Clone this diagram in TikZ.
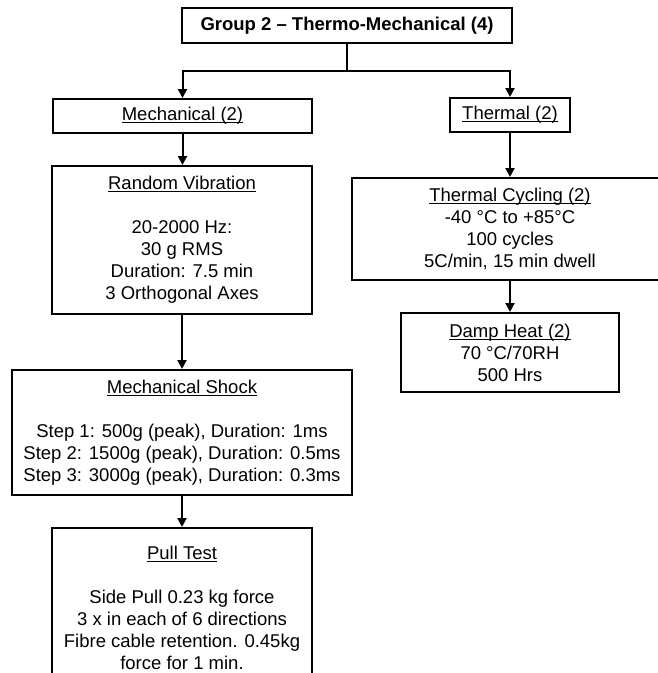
\documentclass[tikz,border=0pt]{standalone}
\usepackage{fontspec}
\setmainfont{Liberation Sans}
\usetikzlibrary{arrows.meta}
\newcommand\ulx[1]{\setbox0\hbox{#1}\rlap{\rule[-2.6pt]{\wd0}{1.1pt}}\box0}
\begin{document}
\begin{tikzpicture}[x=1pt,y=-1pt,
  box/.style={draw, line width=2pt, align=center, inner sep=0pt, font=\fontsize{18.5}{22}\selectfont},
  arr/.style={line width=2pt, -{Triangle[length=9pt,width=9pt]}},
  ln/.style={line width=2pt}]
\useasboundingbox (0,0) rectangle (658,673);
\clip (0,0) rectangle (658,673);
\node[box, minimum width=330pt, minimum height=35pt, font=\bfseries\fontsize{18.5}{22}\selectfont] (top) at (347,25.5) {Group 2 -- Thermo-Mechanical (4)};
\node[box, minimum width=259pt, minimum height=34pt] (mech) at (182.5,116) {\ulx{Mechanical (2)}};
\node[box, minimum width=120pt, minimum height=34pt] (therm) at (510,115) {\ulx{Thermal (2)}};
\node[box, minimum width=260pt, minimum height=148pt] (rv) at (182,240) {\ulx{Random Vibration}\\[22pt]20-2000 Hz:\\30 g RMS\\Duration: 7.5 min\\3 Orthogonal Axes};
\node[box, minimum width=316pt, minimum height=102pt] (tc) at (510,229) {\ulx{Thermal Cycling (2)}\\-40 °C to +85°C\\100 cycles\\5C/min, 15 min dwell};
\node[box, minimum width=218pt, minimum height=79pt] (dh) at (510,352.5) {\ulx{Damp Heat (2)}\\70 °C/70RH\\500 Hrs};
\node[box, minimum width=340pt, minimum height=125pt] (ms) at (182,432.5) {\ulx{Mechanical Shock}\\[22pt]Step 1: 500g (peak), Duration: 1ms\\Step 2: 1500g (peak), Duration: 0.5ms\\Step 3: 3000g (peak), Duration: 0.3ms};
\node[box, minimum width=260pt, minimum height=160pt] (pt) at (182,608) {\ulx{Pull Test}\\[22pt]Side Pull 0.23 kg force\\3 x in each of 6 directions\\Fibre cable retention. 0.45kg\\force for 1 min.};
\coordinate (j) at (top.south |- 0,71);
\draw[ln] (top.south) -- (j);
\draw[arr] (j) -| (mech.north);
\draw[arr] (j) -| (therm.north);
\draw[arr] (mech.south) -- (mech.south |- rv.north);
\draw[arr] (therm.south) -- (therm.south |- tc.north);
\draw[arr] (tc.south) -- (dh.north);
\draw[arr] (rv.south) -- (ms.north);
\draw[arr] (ms.south) -- (pt.north);
\end{tikzpicture}
\end{document}
